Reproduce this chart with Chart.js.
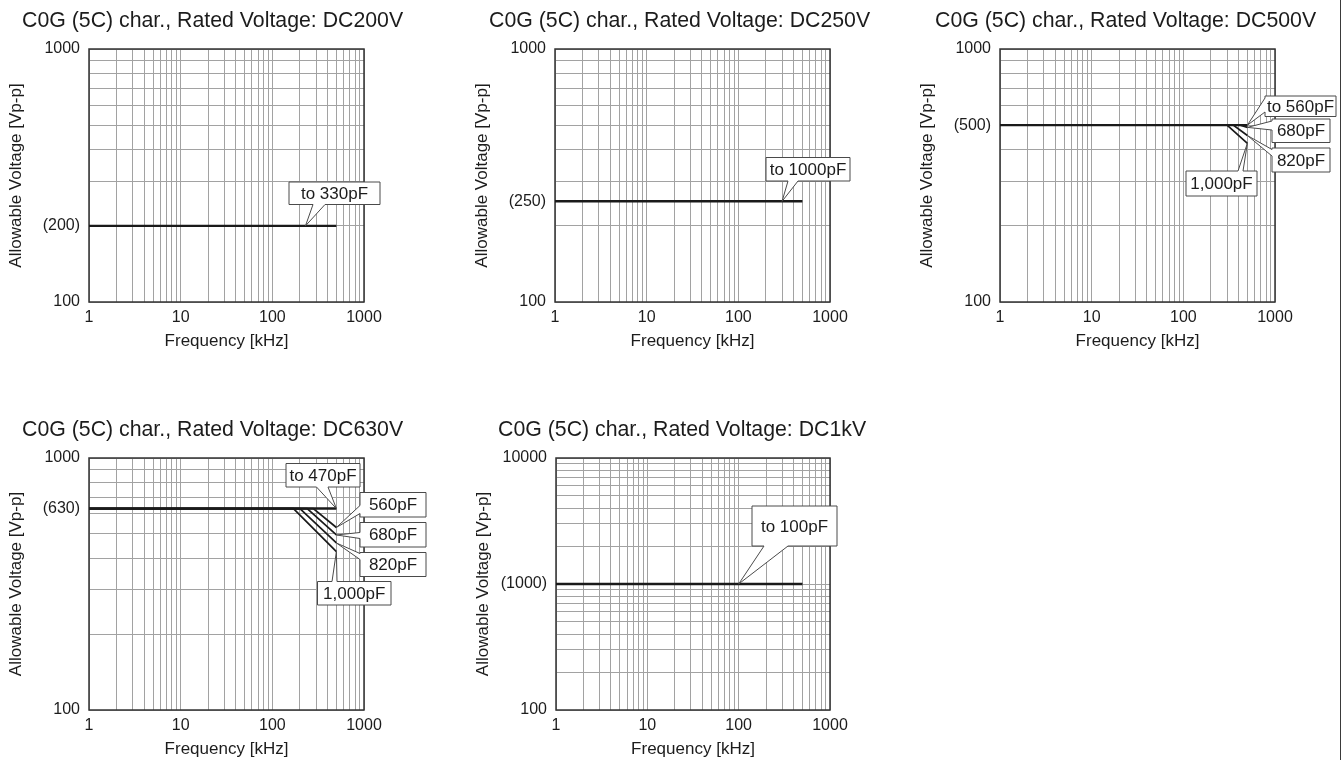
<!DOCTYPE html>
<html><head><meta charset="utf-8">
<script src="https://cdn.jsdelivr.net/npm/chart.js@4.4.1/dist/chart.umd.min.js"></script>
<style>
html,body{margin:0;padding:0;background:#fff;width:1344px;height:760px;overflow:hidden;position:relative;}
canvas{position:absolute;}
#edge{position:absolute;left:1340px;top:0;width:1px;height:760px;background:#3a3a3a;}
</style></head><body>
<canvas id="c1"></canvas><canvas id="c2"></canvas><canvas id="c3"></canvas>
<canvas id="c4"></canvas><canvas id="c5"></canvas>
<div id="edge"></div>
<script>
// ---------- DATA ----------
const freqMajor = [1, 10, 100, 1000];
const freqMajorText = ['1', '10', '100', '1000'];

// DC200V
const dc200Title = 'C0G (5C) char., Rated Voltage: DC200V';
const dc200Freq = [1, 500];
const dc200Volt = [200, 200];
const dc200Label = 'to 330pF';
const dc200YTicks = [100, 200, 1000];
const dc200YText = ['100', '(200)', '1000'];

// DC250V
const dc250Title = 'C0G (5C) char., Rated Voltage: DC250V';
const dc250Freq = [1, 500];
const dc250Volt = [250, 250];
const dc250Label = 'to 1000pF';
const dc250YTicks = [100, 250, 1000];
const dc250YText = ['100', '(250)', '1000'];

// DC500V
const dc500Title = 'C0G (5C) char., Rated Voltage: DC500V';
const dc500Freq560 = [1, 500];        const dc500Volt560 = [500, 500];
const dc500Freq680 = [1, 420, 500];   const dc500Volt680 = [500, 500, 490];
const dc500Freq820 = [1, 350, 500];   const dc500Volt820 = [500, 500, 455];
const dc500Freq1000 = [1, 300, 500];  const dc500Volt1000 = [500, 500, 424];
const dc500Labels = ['to 560pF', '680pF', '820pF', '1,000pF'];
const dc500YTicks = [100, 500, 1000];
const dc500YText = ['100', '(500)', '1000'];

// DC630V
const dc630Title = 'C0G (5C) char., Rated Voltage: DC630V';
const dc630Freq470 = [1, 500];        const dc630Volt470 = [630, 630];
const dc630Freq560 = [1, 280, 500];   const dc630Volt560 = [630, 630, 530];
const dc630Freq680 = [1, 240, 500];   const dc630Volt680 = [630, 630, 495];
const dc630Freq820 = [1, 200, 500];   const dc630Volt820 = [630, 630, 460];
const dc630Freq1000 = [1, 170, 500];  const dc630Volt1000 = [630, 630, 425];
const dc630Labels = ['to 470pF', '560pF', '680pF', '820pF', '1,000pF'];
const dc630YTicks = [100, 630, 1000];
const dc630YText = ['100', '(630)', '1000'];

// DC1kV
const dc1kTitle = 'C0G (5C) char., Rated Voltage: DC1kV';
const dc1kFreq = [1, 500];
const dc1kVolt = [1000, 1000];
const dc1kLabel = 'to 100pF';
const dc1kYTicks = [100, 1000, 10000];
const dc1kYText = ['100', '(1000)', '10000'];

// ---------- HELPERS ----------
const FONT = '"Liberation Sans", Arial, Helvetica, sans-serif';
const TEXT = '#1c1c1c';
const GRID = '#a2a2a2';

function decadeGrid(lo, hi) { // 1-2-...-9 gridlines of each decade
  const out = [];
  for (let d = lo; d < hi; d *= 10) for (let m = 1; m <= 9; m++) out.push(m * d);
  out.push(hi);
  return out;
}
function pts(fs, vs) { return fs.map((f, i) => ({x: f, y: vs[i]})); }
function last(a) { return a[a.length - 1]; }

const titlePlugin = {
  id: 'chartTitle',
  afterDraw(chart, args, o) {
    const ctx = chart.ctx;
    ctx.save();
    ctx.font = '21.3px ' + FONT;
    ctx.fillStyle = TEXT;
    ctx.textBaseline = 'middle';
    ctx.textAlign = 'left';
    ctx.fillText(o.text, o.x, 21);
    ctx.restore();
  }
};
const framePlugin = {
  id: 'frame',
  beforeDatasetsDraw(chart) {
    const a = chart.chartArea, ctx = chart.ctx;
    ctx.save();
    ctx.strokeStyle = '#333';
    ctx.lineWidth = 1.5;
    ctx.strokeRect(a.left, a.top, a.right - a.left, a.bottom - a.top);
    ctx.restore();
  }
};
const calloutPlugin = {
  id: 'callouts',
  afterDatasetsDraw(chart, args, o) {
    const ctx = chart.ctx, a = chart.chartArea;
    const xs = chart.scales.x, ys = chart.scales.y;
    ctx.save();
    (o.items || []).forEach(c => {
      const x = a.left + c.box[0], y = a.top + c.box[1], w = c.box[2], h = c.box[3];
      const tx = xs.getPixelForValue(c.tip[0]), ty = ys.getPixelForValue(c.tip[1]);
      const [b1, b2] = c.base;
      ctx.beginPath();
      if (c.edge === 'bottom') {
        ctx.moveTo(x, y); ctx.lineTo(x + w, y); ctx.lineTo(x + w, y + h);
        ctx.lineTo(x + b2, y + h); ctx.lineTo(tx, ty); ctx.lineTo(x + b1, y + h);
        ctx.lineTo(x, y + h);
      } else if (c.edge === 'top') {
        ctx.moveTo(x, y); ctx.lineTo(x + b1, y); ctx.lineTo(tx, ty); ctx.lineTo(x + b2, y);
        ctx.lineTo(x + w, y); ctx.lineTo(x + w, y + h); ctx.lineTo(x, y + h);
      } else { // left
        ctx.moveTo(x, y); ctx.lineTo(x + w, y); ctx.lineTo(x + w, y + h); ctx.lineTo(x, y + h);
        ctx.lineTo(x, y + b2); ctx.lineTo(tx, ty); ctx.lineTo(x, y + b1);
      }
      ctx.closePath();
      ctx.fillStyle = '#fff';
      ctx.fill();
      ctx.strokeStyle = '#4a4a4a';
      ctx.lineWidth = 1;
      ctx.stroke();
      ctx.font = '17px ' + FONT;
      ctx.fillStyle = TEXT;
      ctx.textAlign = 'center';
      ctx.textBaseline = 'middle';
      ctx.fillText(c.text, x + w / 2, y + h / 2 + 1);
    });
    ctx.restore();
  }
};

function makeChart(cfg) {
  const cv = document.getElementById(cfg.id);
  const padL = 89, padT = 49, padR = 69, axisH = 50, padB = 28;
  const w = cfg.plot.r - cfg.plot.l, h = cfg.plot.b - cfg.plot.t;
  const W = w + padL + padR, H = h + padT + axisH + padB;
  cv.style.left = (cfg.plot.l - padL) + 'px';
  cv.style.top = (cfg.plot.t - padT) + 'px';
  cv.style.width = W + 'px'; cv.style.height = H + 'px';
  cv.width = W; cv.height = H;

  const xGrid = decadeGrid(1, 1000);
  const yGrid = decadeGrid(cfg.yMin, cfg.yMax);
  const yAll = Array.from(new Set(yGrid.concat(cfg.yTicks))).sort((p, q) => p - q);
  const yGridSet = new Set(yGrid);

  new Chart(cv, {
    type: 'line',
    data: {
      datasets: cfg.series.map((s, i) => ({
        data: pts(s[0], s[1]),
        borderColor: '#1a1a1a',
        borderWidth: i === 0 ? 2.4 : 1.7,
        pointRadius: 0,
        fill: false,
        tension: 0
      }))
    },
    options: {
      responsive: false,
      animation: false,
      events: [],
      layout: {padding: {left: 0, top: padT, right: padR, bottom: padB}},
      plugins: {
        legend: {display: false},
        tooltip: {enabled: false},
        chartTitle: {text: cfg.title, x: cfg.titleX},
        callouts: {items: cfg.callouts}
      },
      scales: {
        x: {
          type: 'logarithmic',
          min: 1, max: 1000,
          afterBuildTicks(s) { s.ticks = xGrid.map(v => ({value: v})); },
          afterFit(s) { s.height = axisH; },
          grid: {color: GRID, lineWidth: 1, drawTicks: false},
          border: {display: false},
          ticks: {
            autoSkip: false, maxRotation: 0, minRotation: 0, padding: 6,
            color: TEXT, font: {family: FONT, size: 16},
            callback(v) { const k = freqMajor.indexOf(v); return k >= 0 ? freqMajorText[k] : ''; }
          },
          title: {display: true, text: 'Frequency [kHz]', color: TEXT,
                  font: {family: FONT, size: 17}, padding: {top: 0, bottom: 0}}
        },
        y: {
          type: 'logarithmic',
          min: cfg.yMin, max: cfg.yMax,
          afterBuildTicks(s) { s.ticks = yAll.map(v => ({value: v})); },
          afterFit(s) { s.width = padL; },
          grid: {color: c => (c.tick && yGridSet.has(c.tick.value)) ? GRID : 'rgba(0,0,0,0)',
                 lineWidth: 1, drawTicks: false},
          border: {display: false},
          ticks: {
            autoSkip: false, padding: 9, color: TEXT, font: {family: FONT, size: 16},
            callback(v) { const k = cfg.yTicks.indexOf(v); return k >= 0 ? cfg.yText[k] : ''; }
          },
          title: {display: true, text: 'Allowable Voltage [Vp-p]', color: TEXT,
                  font: {family: FONT, size: 17}, padding: {top: 6, bottom: 0}}
        }
      }
    },
    plugins: [framePlugin, titlePlugin, calloutPlugin]
  });
}

// ---------- CHARTS ----------
makeChart({
  id: 'c1', plot: {l: 89, t: 49, r: 364, b: 302}, title: dc200Title, titleX: 22,
  yMin: 100, yMax: 1000, yTicks: dc200YTicks, yText: dc200YText,
  series: [[dc200Freq, dc200Volt]],
  callouts: [{text: dc200Label, box: [200, 133, 91, 22.5], edge: 'bottom', base: [24, 36], tip: [230, dc200Volt[0]]}]
});
makeChart({
  id: 'c2', plot: {l: 555, t: 49, r: 830, b: 302}, title: dc250Title, titleX: 23,
  yMin: 100, yMax: 1000, yTicks: dc250YTicks, yText: dc250YText,
  series: [[dc250Freq, dc250Volt]],
  callouts: [{text: dc250Label, box: [211, 108.5, 84, 23.5], edge: 'bottom', base: [22, 32], tip: [300, dc250Volt[0]]}]
});
makeChart({
  id: 'c3', plot: {l: 1000, t: 49, r: 1275, b: 302}, title: dc500Title, titleX: 24,
  yMin: 100, yMax: 1000, yTicks: dc500YTicks, yText: dc500YText,
  series: [[dc500Freq560, dc500Volt560], [dc500Freq680, dc500Volt680],
           [dc500Freq820, dc500Volt820], [dc500Freq1000, dc500Volt1000]],
  callouts: [
    {text: dc500Labels[0], box: [265, 47, 71, 20.5], edge: 'left', base: [2, 16], tip: [last(dc500Freq560), last(dc500Volt560)]},
    {text: dc500Labels[1], box: [272, 70, 58, 23.5], edge: 'left', base: [2, 11], tip: [last(dc500Freq680), last(dc500Volt680)]},
    {text: dc500Labels[2], box: [272, 99, 58, 24], edge: 'left', base: [1.5, 8], tip: [last(dc500Freq820), last(dc500Volt820)]},
    {text: dc500Labels[3], box: [186, 122, 71, 25], edge: 'top', base: [52, 57], tip: [last(dc500Freq1000), last(dc500Volt1000)]}
  ]
});
makeChart({
  id: 'c4', plot: {l: 89, t: 458, r: 364, b: 710}, title: dc630Title, titleX: 22,
  yMin: 100, yMax: 1000, yTicks: dc630YTicks, yText: dc630YText,
  series: [[dc630Freq470, dc630Volt470], [dc630Freq560, dc630Volt560], [dc630Freq680, dc630Volt680],
           [dc630Freq820, dc630Volt820], [dc630Freq1000, dc630Volt1000]],
  callouts: [
    {text: dc630Labels[0], box: [197, 5.5, 74, 23.5], edge: 'bottom', base: [30.5, 42], tip: [last(dc630Freq470), last(dc630Volt470)]},
    {text: dc630Labels[1], box: [271, 34.5, 66, 24.5], edge: 'left', base: [13, 21], tip: [last(dc630Freq560), last(dc630Volt560)]},
    {text: dc630Labels[2], box: [271, 64.5, 66, 24.5], edge: 'left', base: [10, 16], tip: [last(dc630Freq680), last(dc630Volt680)]},
    {text: dc630Labels[3], box: [271, 94.5, 66, 24], edge: 'left', base: [1, 7], tip: [last(dc630Freq820), last(dc630Volt820)]},
    {text: dc630Labels[4], box: [228.5, 123.5, 73.5, 23.5], edge: 'top', base: [14.5, 19.5], tip: [last(dc630Freq1000), last(dc630Volt1000)]}
  ]
});
makeChart({
  id: 'c5', plot: {l: 556, t: 458, r: 830, b: 710}, title: dc1kTitle, titleX: 31,
  yMin: 100, yMax: 10000, yTicks: dc1kYTicks, yText: dc1kYText,
  series: [[dc1kFreq, dc1kVolt]],
  callouts: [{text: dc1kLabel, box: [196, 48, 85, 40], edge: 'bottom', base: [12, 36], tip: [100, dc1kVolt[0]]}]
});
</script>
</body></html>
